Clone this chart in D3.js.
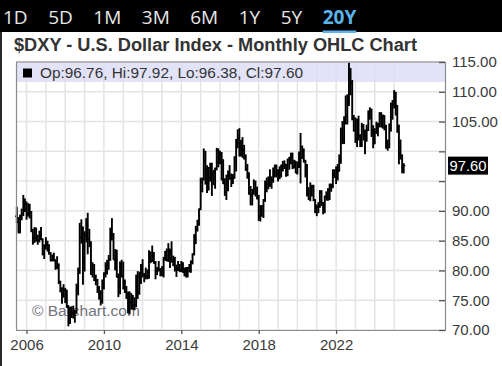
<!DOCTYPE html>
<html><head><meta charset="utf-8">
<script src="https://cdn.jsdelivr.net/npm/d3@7"></script>
<style>html,body{margin:0;padding:0;background:#fff;overflow:hidden}</style>
</head><body>
<svg id="c" width="502" height="366"></svg>
<script>
// ---------- DATA (monthly, Jul 2005 .. Jul 2025) ----------
const firstMonth = new Date(2005, 6, 1);
const tabs = ["1D","5D","1M","3M","6M","1Y","5Y","20Y"];
const activeTab = "20Y";
const yTicks = [70,75,80,85,90,95,100,105,110,115];
const xLabelYears = [2006,2010,2014,2018,2022];
const gridYears = d3.range(2006, 2026);
const title = "$DXY - U.S. Dollar Index - Monthly OHLC Chart";

const open = [
 89.1,88.1,86.9,89.1,89.4,91.4,
 91.1,89.4,90.3,89.6,86.8,85.4,85.6,85.4,85.0,85.9,85.2,82.9,
 83.7,84.6,83.3,82.9,81.7,82.2,81.7,80.6,80.8,78.0,76.6,76.1,
 76.7,75.3,73.9,71.8,73.5,72.9,72.5,73.1,77.1,79.9,85.5,86.5,
 81.3,85.9,88.5,85.3,84.6,79.5,80.3,78.4,78.3,76.9,76.5,74.9,
 77.9,79.5,80.4,81.1,81.9,86.3,86.0,81.8,83.1,78.9,77.3,81.2,
 79.0,77.5,76.5,75.9,73.0,74.6,74.3,74.0,74.3,78.5,76.3,78.3,
 80.2,79.3,78.7,79.0,78.8,83.0,81.6,82.6,81.2,79.9,80.1,80.2,
 79.8,79.2,82.1,83.0,81.8,83.3,83.1,81.5,82.1,80.2,80.2,80.7,
 80.0,81.2,79.7,80.1,79.5,80.4,79.8,81.5,82.7,85.9,87.0,88.4,
 90.3,94.8,95.3,98.4,94.6,96.9,95.5,97.3,96.0,96.4,97.0,100.2,
 98.6,99.6,98.2,94.6,93.1,95.9,96.1,95.5,96.0,95.5,98.5,101.5,
 102.2,99.5,101.1,100.3,99.0,97.0,95.6,92.9,92.7,93.1,94.6,93.0,
 92.1,89.1,90.6,90.2,91.8,94.0,94.5,94.5,95.1,95.1,97.1,97.3,
 96.2,95.6,96.2,97.3,97.5,97.8,96.1,98.5,98.9,99.4,97.4,98.3,
 96.4,97.4,98.1,99.0,99.0,98.3,97.4,93.3,92.1,93.9,94.0,91.9,
 89.9,90.6,90.9,93.2,91.3,90.0,92.4,92.2,92.6,94.2,94.1,96.0,
 95.7,96.5,96.7,98.3,103.0,101.8,104.7,105.9,108.7,112.1,111.5,105.9,
 103.5,102.1,104.9,102.5,101.7,104.3,102.9,101.9,103.6,106.2,106.7,103.5,
 101.3,103.3,104.2,104.5,106.2,104.7,105.9,104.1,101.7,100.8,104.0,105.7,
 108.5,108.4,107.6,104.2,99.5,99.3,96.76
];
const high = [
 90.6,88.9,89.3,90.3,92.6,92.0,
 91.5,91.2,91.1,89.9,86.9,87.2,87.1,85.9,86.6,87.2,85.3,84.3,
 85.5,84.9,84.3,83.0,82.6,82.9,81.8,82.3,81.1,78.2,77.1,77.6,
 77.0,76.7,74.1,73.8,73.9,74.0,73.3,77.7,80.4,87.9,88.5,87.3,
 86.5,88.7,89.6,86.9,84.8,81.3,81.0,79.2,78.5,77.3,76.6,78.4,
 79.6,81.3,81.7,82.5,87.1,88.7,86.2,83.5,83.4,79.4,81.4,81.7,
 81.4,78.4,77.3,76.4,76.4,76.1,75.8,75.4,79.2,79.8,79.7,81.0,
 81.8,79.5,80.4,80.1,83.3,83.1,84.1,83.0,81.5,80.5,81.5,80.3,
 80.6,82.2,83.2,83.6,84.5,83.6,84.8,82.4,82.2,80.9,81.5,81.0,
 81.5,81.3,80.4,80.5,80.5,81.0,81.6,82.8,86.0,87.4,88.4,90.3,
 95.5,95.5,100.4,100.0,97.6,97.3,98.0,98.0,96.8,97.2,100.5,100.4,
 100.0,99.8,98.6,95.4,96.0,96.7,97.6,96.2,96.1,99.1,102.0,103.6,
 103.8,101.8,102.3,101.0,99.4,97.8,96.4,94.1,93.6,95.2,95.0,94.0,
 92.6,90.9,90.9,91.9,95.0,95.5,95.7,96.9,95.7,97.2,97.7,97.7,
 96.9,97.4,97.7,98.3,98.4,97.8,98.7,99.0,99.7,99.7,98.5,98.3,
 98.2,99.9,103.0,100.9,100.4,98.5,97.8,93.9,94.7,94.3,94.3,91.9,
 91.0,91.4,93.4,93.4,91.4,92.5,93.2,93.7,94.5,94.5,96.9,96.9,
 97.4,97.8,99.4,103.9,105.0,105.8,109.3,109.5,114.8,113.9,111.9,106.0,
 105.6,105.4,105.9,102.8,104.7,104.5,103.6,104.4,106.8,107.3,107.1,104.3,
 103.8,104.9,104.7,106.5,106.5,106.1,106.0,104.4,101.9,104.6,108.1,108.5,
 110.2,109.9,107.7,104.4,101.9,99.4,97.92
];
const low = [
 88.0,86.3,86.3,88.5,89.2,89.9,
 88.6,89.1,88.8,86.5,84.4,84.7,84.9,84.4,84.8,85.2,82.6,82.0,
 83.6,83.3,82.7,81.6,81.6,81.6,80.2,80.3,77.8,76.4,74.5,75.5,
 74.6,73.8,70.7,71.1,72.1,72.0,71.3,72.8,75.9,79.5,84.6,77.7,
 79.9,84.8,82.8,84.0,79.3,78.9,78.3,77.6,76.3,75.2,74.2,74.5,
 76.9,78.9,79.4,80.2,81.7,85.1,81.9,80.1,78.9,75.6,76.1,78.9,
 76.9,76.3,75.3,72.9,72.7,73.5,73.5,73.4,73.9,75.3,76.0,77.8,
 78.9,78.1,78.6,78.6,78.7,81.3,81.5,81.2,78.6,79.3,79.9,79.1,
 79.1,78.9,81.7,81.6,81.5,80.5,81.4,80.8,79.9,79.0,80.0,79.8,
 79.8,79.7,79.1,78.9,78.9,79.8,79.7,81.1,82.6,84.5,86.6,87.6,
 90.2,93.2,95.2,94.5,93.1,93.5,95.0,92.6,94.4,93.8,96.9,97.4,
 97.9,95.2,94.6,92.6,91.9,93.4,95.3,94.1,94.6,95.5,96.7,100.6,
 99.2,99.2,99.0,98.7,96.8,95.5,92.8,91.0,91.0,92.8,92.5,92.0,
 88.4,88.3,89.1,88.9,91.6,93.2,93.7,94.1,93.8,94.8,95.7,95.7,
 95.0,95.4,95.7,96.7,97.1,95.8,95.9,97.0,97.9,97.1,97.2,96.4,
 96.2,97.3,94.7,98.8,98.2,95.7,92.5,91.9,91.7,92.5,91.7,89.7,
 89.2,89.7,90.6,90.9,89.5,89.7,91.8,91.8,91.9,93.3,93.9,95.6,
 94.6,95.2,96.7,98.0,101.3,101.3,104.6,104.6,107.7,109.5,105.3,103.4,
 101.5,100.8,101.9,100.8,100.8,101.9,99.6,101.7,103.5,105.4,102.5,100.6,
 101.3,103.0,102.6,104.1,104.1,103.9,103.6,100.5,100.2,100.6,103.4,105.4,
 107.3,106.1,103.2,97.9,98.7,96.4,96.38
];
const close = [
 88.1,86.9,89.1,89.4,91.4,91.1,
 89.4,90.3,89.6,86.8,85.4,85.6,85.4,85.0,85.9,85.2,82.9,83.7,
 84.6,83.3,82.9,81.7,82.2,81.7,80.6,80.8,78.0,76.6,76.1,76.7,
 75.3,73.9,71.8,73.5,72.9,72.5,73.1,77.1,79.9,85.5,86.5,81.3,
 85.9,88.5,85.3,84.6,79.5,80.3,78.4,78.3,76.9,76.5,74.9,77.9,
 79.5,80.4,81.1,81.9,86.3,86.0,81.8,83.1,78.9,77.3,81.2,79.0,
 77.5,76.5,75.9,73.0,74.6,74.3,74.0,74.3,78.5,76.3,78.3,80.2,
 79.3,78.7,79.0,78.8,83.0,81.6,82.6,81.2,79.9,80.1,80.2,79.8,
 79.2,82.1,83.0,81.8,83.3,83.1,81.5,82.1,80.2,80.2,80.7,80.0,
 81.2,79.7,80.1,79.5,80.4,79.8,81.5,82.7,85.9,87.0,88.4,90.3,
 94.8,95.3,98.4,94.6,96.9,95.5,97.3,96.0,96.4,97.0,100.2,98.6,
 99.6,98.2,94.6,93.1,95.9,96.1,95.5,96.0,95.5,98.5,101.5,102.2,
 99.5,101.1,100.3,99.0,97.0,95.6,92.9,92.7,93.1,94.6,93.0,92.1,
 89.1,90.6,90.2,91.8,94.0,94.5,94.5,95.1,95.1,97.1,97.3,96.2,
 95.6,96.2,97.3,97.5,97.8,96.1,98.5,98.9,99.4,97.4,98.3,96.4,
 97.4,98.1,99.0,99.0,98.3,97.4,93.3,92.1,93.9,94.0,91.9,89.9,
 90.6,90.9,93.2,91.3,90.0,92.4,92.2,92.6,94.2,94.1,96.0,95.7,
 96.5,96.7,98.3,103.0,101.8,104.7,105.9,108.7,112.1,111.5,105.9,103.5,
 102.1,104.9,102.5,101.7,104.3,102.9,101.9,103.6,106.2,106.7,103.5,101.3,
 103.3,104.2,104.5,106.2,104.7,105.9,104.1,101.7,100.8,104.0,105.7,108.5,
 108.4,107.6,104.2,99.5,99.3,96.9,97.60
];
const months = close.map((_, i) => d3.timeMonth.offset(firstMonth, i));

// ---------- LAYOUT ----------
const W = 502, H = 366;
const L = 16, R = 445, T = 62, B = 330;
const FONT = "'Liberation Sans', Arial, Helvetica, sans-serif";
const svg = d3.select("#c");

svg.append("rect").attr("width", W).attr("height", H).attr("fill", "#fff");
svg.append("rect").attr("width", W).attr("height", 32).attr("fill", "#000");
svg.append("rect").attr("x", 0).attr("y", 32).attr("width", 2).attr("height", H - 32).attr("fill", "#2a2a2a");

// tabs
const tabG = svg.append("g");
let tx = 3;
tabs.forEach(t => {
  const active = t === activeTab;
  const el = tabG.append("text").attr("x", tx).attr("y", 24)
    .attr("font-family", "'Open Sans', sans-serif").attr("font-size", 19)
    .attr("font-weight", active ? 700 : 400)
    .attr("fill", active ? "#5ab4ea" : "#e8e8e8").text(t);
  const w = el.node().getComputedTextLength();
  if (active) {
    tabG.append("rect").attr("x", tx).attr("y", 30.5).attr("width", w).attr("height", 2.5).attr("fill", "#5ab4ea");
  }
  tx += w + 20.5;
});

// title
svg.append("text").attr("x", 14).attr("y", 51)
  .attr("font-family", FONT).attr("font-size", 17.5).attr("font-weight", 700)
  .attr("fill", "#333").attr("textLength", 403).attr("lengthAdjust", "spacingAndGlyphs").text(title);

// scales
const x = d3.scaleTime().domain([new Date(2005, 5, 16), new Date(2027, 7, 19)]).range([L, R]);
const y = d3.scaleLinear().domain([70, 115]).range([B, T]);

// grid
const grid = svg.append("g");
grid.selectAll("line.h").data(yTicks).join("line")
  .attr("x1", L).attr("x2", R).attr("y1", d => y(d)).attr("y2", d => y(d))
  .attr("stroke", "#e4e4e4").attr("stroke-width", 1.5);
grid.selectAll("line.v").data(gridYears).join("line")
  .attr("x1", d => x(new Date(d, 0, 1))).attr("x2", d => x(new Date(d, 0, 1)))
  .attr("y1", T).attr("y2", B)
  .attr("stroke", "#e4e4e4").attr("stroke-width", 1.5);

// legend band
svg.append("rect").attr("x", L).attr("y", T).attr("width", R - L).attr("height", 20)
  .attr("fill", "#dcdcf6").attr("opacity", 0.8);

// watermark
svg.append("text").attr("x", 32).attr("y", 316)
  .attr("font-family", FONT).attr("font-size", 15.5)
  .attr("fill", "#64646f").attr("opacity", 0.9).text("\u00A9 Barchart.com");

// OHLC bars
const bars = svg.append("g").attr("stroke", "#000");
bars.selectAll("g").data(months).join("g").each(function(d, i) {
  const g = d3.select(this);
  const cx = x(d);
  g.append("line").attr("x1", cx).attr("x2", cx).attr("y1", y(low[i]) + 0.5).attr("y2", y(high[i]) - 0.5).attr("stroke-width", 1.9);
  g.append("line").attr("x1", cx - 1.6).attr("x2", cx).attr("y1", y(open[i])).attr("y2", y(open[i])).attr("stroke-width", 1.3);
  g.append("line").attr("x1", cx).attr("x2", cx + 1.6).attr("y1", y(close[i])).attr("y2", y(close[i])).attr("stroke-width", 1.3);
});

// frame
const frame = svg.append("g").attr("stroke", "#8a8a8a").attr("stroke-width", 1.2).attr("fill", "none");
frame.append("line").attr("x1", L + 0.5).attr("x2", L + 0.5).attr("y1", T).attr("y2", B);
frame.append("line").attr("x1", L).attr("x2", R).attr("y1", B + 0.5).attr("y2", B + 0.5);
frame.append("line").attr("x1", L).attr("x2", R).attr("y1", T).attr("y2", T);
frame.append("line").attr("x1", R + 0.5).attr("x2", R + 0.5).attr("y1", T).attr("y2", B + 1);

// right axis
const last = close.length - 1;
const lastY = y(close[last]);
const yAxis = svg.append("g").attr("transform", `translate(${R},0)`)
  .call(d3.axisRight(y).tickValues(yTicks).tickSize(-6).tickPadding(7).tickFormat(d3.format(".2f")));
yAxis.select(".domain").remove();
yAxis.selectAll(".tick line").attr("stroke", "#555").attr("stroke-width", 1.3);
yAxis.selectAll(".tick text").attr("font-family", FONT).attr("font-size", 15).attr("fill", "#3a3a3a")
  .attr("x", 7)
  .style("display", d => Math.abs(y(d) - lastY) < 18 ? "none" : null);

// bottom axis
const xAxis = svg.append("g").attr("transform", `translate(0,${B})`)
  .call(d3.axisBottom(x).tickValues(xLabelYears.map(v => new Date(v, 0, 1))).tickSize(4).tickPadding(5).tickFormat(d3.timeFormat("%Y")));
xAxis.select(".domain").remove();
xAxis.selectAll(".tick line").attr("stroke", "#555").attr("stroke-width", 1.3);
xAxis.selectAll(".tick text").attr("font-family", FONT).attr("font-size", 15).attr("fill", "#3a3a3a");

// last price label
svg.append("rect").attr("x", R + 3).attr("y", lastY - 9).attr("width", 40).attr("height", 18).attr("fill", "#000");
svg.append("text").attr("x", R + 23).attr("y", lastY + 5.5).attr("text-anchor", "middle")
  .attr("font-family", FONT).attr("font-size", 15).attr("fill", "#fff")
  .attr("textLength", 37).attr("lengthAdjust", "spacingAndGlyphs")
  .text(close[last].toFixed(2));

// legend
svg.append("rect").attr("x", 23).attr("y", 68.5).attr("width", 9).attr("height", 9).attr("fill", "#000");
svg.append("text").attr("x", 40).attr("y", 77.5)
  .attr("font-family", FONT).attr("font-size", 15).attr("fill", "#333")
  .attr("textLength", 263).attr("lengthAdjust", "spacingAndGlyphs")
  .text(`Op:${open[last].toFixed(2)}, Hi:${high[last].toFixed(2)}, Lo:${low[last].toFixed(2)}, Cl:${close[last].toFixed(2)}`);
</script>
</body></html>
